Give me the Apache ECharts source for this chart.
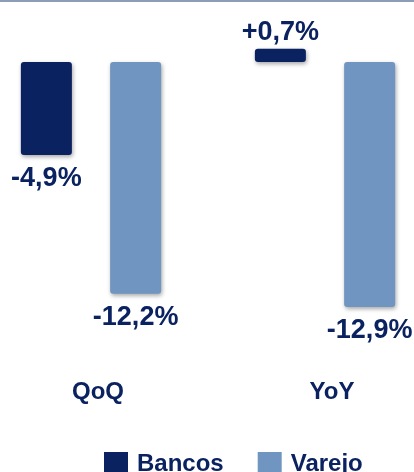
<!DOCTYPE html>
<html>
<head>
<meta charset="utf-8">
<script src="https://cdn.jsdelivr.net/npm/echarts@6/dist/echarts.min.js"></script>
<style>
  html, body { margin: 0; padding: 0; background: #fff; }
  #chart { width: 414px; height: 472px; }
</style>
</head>
<body>
<div id="chart"></div>
<script>
// dados do gráfico
var categories = ['QoQ', 'YoY'];
var seriesNames = ['Bancos', 'Varejo'];
var bancos = [-4.9, 0.7];
var varejo = [-12.2, -12.9];

var navy = '#0b2260';
var steel = '#7095c0';
var font = '"Liberation Sans", Arial, sans-serif';

// rótulo: vírgula decimal e sinal + nos positivos
function fmt(v) {
    var s = Math.abs(v).toFixed(1).replace('.', ',') + '%';
    return (v > 0 ? '+' : '-') + s;
}

function barData(arr) {
    return arr.map(function (v) {
        return {
            value: v,
            label: v >= 0 ? { position: 'top', distance: 3 } : { position: 'bottom', distance: 10 }
        };
    });
}

var labelStyle = {
    show: true,
    formatter: function (p) { return fmt(p.value); },
    color: navy,
    fontFamily: font,
    fontWeight: 'bold',
    fontSize: 27
};

var barStyle = function (c) {
    return {
        color: c,
        borderRadius: 3,
        shadowColor: 'rgba(0,0,0,0.35)',
        shadowBlur: 4,
        shadowOffsetX: 1,
        shadowOffsetY: 2
    };
};

var myChart = echarts.init(document.getElementById('chart'), null, { renderer: 'canvas' });

var options = {
    animation: false,
    backgroundColor: '#fff',
    // linha fina no topo
    graphic: [{
        type: 'rect',
        shape: { x: 0, y: 0, width: 414, height: 2 },
        style: { fill: '#8d9db6' }
    }],
    legend: {
        data: seriesNames,
        left: 104,
        top: 452,
        padding: 0,
        icon: 'rect',
        itemWidth: 24,
        itemHeight: 24,
        itemGap: 34,
        itemStyle: { borderRadius: 0, shadowBlur: 0, shadowOffsetX: 0, shadowOffsetY: 0 },
        textStyle: {
            color: navy,
            fontFamily: font,
            fontWeight: 'bold',
            fontSize: 24,
            padding: [0, 0, 0, 4]
        }
    },
    // boundaryGap false: as categorias ficam nas bordas do grid
    grid: { left: 91, width: 234, top: 24, height: 304 },
    xAxis: {
        type: 'category',
        data: categories,
        boundaryGap: false,
        axisLine: { show: false, onZero: false },
        axisTick: { show: false },
        axisLabel: {
            margin: 52,
            color: navy,
            fontFamily: font,
            fontWeight: 'bold',
            fontSize: 24,
            padding: [0, 0, 0, 14]
        }
    },
    yAxis: {
        type: 'value',
        min: -14,
        max: 2,
        show: false,
        splitLine: { show: false }
    },
    series: [
        {
            name: seriesNames[0],
            type: 'bar',
            barWidth: 51,
            barGap: '75%',
            data: barData(bancos),
            itemStyle: barStyle(navy),
            label: labelStyle
        },
        {
            name: seriesNames[1],
            type: 'bar',
            barWidth: 51,
            barGap: '75%',
            data: barData(varejo),
            itemStyle: barStyle(steel),
            label: labelStyle
        }
    ]
};

myChart.setOption(options);
</script>
</body>
</html>
